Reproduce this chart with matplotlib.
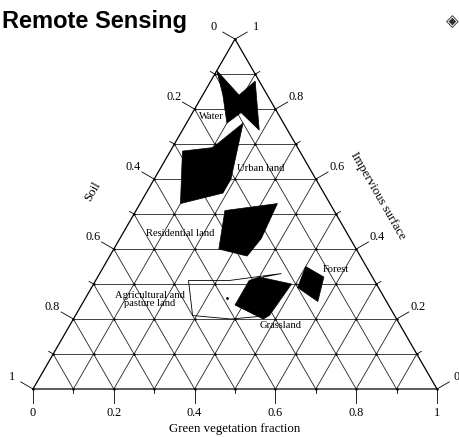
import numpy as np
import matplotlib.pyplot as plt

plt.rcParams["font.family"] = ["Liberation Serif", "DejaVu Serif"]

# land-cover regions, vertices as (green vegetation, impervious surface) fractions
water_veg = [0.00, 0.09, 0.11, 0.19, 0.12, 0.10, 0.05]
water_imp = [0.91, 0.84, 0.88, 0.74, 0.79, 0.76, 0.84]

urban_veg = [0.14, 0.19, 0.19, 0.10, 0.03, 0.10]
urban_imp = [0.76, 0.60, 0.56, 0.53, 0.68, 0.69]

resid_veg = [0.22, 0.34, 0.35, 0.34, 0.26]
resid_imp = [0.51, 0.53, 0.43, 0.38, 0.40]

grass_veg = [0.38, 0.40, 0.49, 0.48, 0.47, 0.38]
grass_imp = [0.31, 0.32, 0.30, 0.21, 0.20, 0.24]

forest_veg = [0.50, 0.56, 0.58, 0.51]
forest_imp = [0.35, 0.32, 0.25, 0.29]

agri_veg = [0.23, 0.33, 0.45, 0.41, 0.48, 0.39, 0.29]
agri_imp = [0.31, 0.31, 0.33, 0.32, 0.21, 0.20, 0.21]

agri_dot = (0.35, 0.26)

ticks = np.round(np.arange(0, 1.01, 0.1), 1)
labeled = [0.0, 0.2, 0.4, 0.6, 0.8, 1.0]
tick_labels = ["0", "0.2", "0.4", "0.6", "0.8", "1"]

H = np.sqrt(3) / 2


def to_xy(veg, imp):
    veg = np.asarray(veg, dtype=float)
    imp = np.asarray(imp, dtype=float)
    return veg + imp / 2, imp * H


fig = plt.figure(figsize=(4.6, 4.37), dpi=100)
ax = fig.add_axes([0, 0, 1, 1])
ax.set_xlim(-33 / 404, 427 / 404)
ax.set_ylim(-48 / 404, 389 / 404)
ax.axis("off")
x_max = 424 / 404  # keep edge labels inside the canvas

grid_kw = dict(color="#222222", lw=0.6, zorder=1)

# grid: constant impervious, constant vegetation, constant soil
for t in ticks[1:-1]:
    x, y = to_xy([0, 1 - t], [t, t])
    ax.plot(x, y, **grid_kw)
    x, y = to_xy([t, t], [0, 1 - t])
    ax.plot(x, y, **grid_kw)
    x, y = to_xy([0, 1 - t], [1 - t, 0])
    ax.plot(x, y, **grid_kw)

# small dots where grid lines cross
pv, pi = [], []
for a in ticks:
    for b in ticks:
        if a + b <= 1.0001:
            pv.append(a)
            pi.append(b)
px, py = to_xy(pv, pi)
ax.plot(px, py, "k.", ms=1.5, zorder=2)

x, y = to_xy([0, 1, 0, 0], [0, 0, 1, 0])
ax.plot(x, y, color="black", lw=0.9, zorder=3)

# ticks and labels on the three edges
left_dir = np.array([-0.866, 0.5])
right_dir = np.array([0.866, 0.5])
for t in ticks:
    major = t in labeled
    ln = 0.035 if major else 0.013
    # left edge (soil)
    x0, y0 = to_xy(0, t)
    ax.plot([x0, x0 + left_dir[0] * ln], [y0, y0 + left_dir[1] * ln], color="black", lw=0.6)
    # right edge (impervious)
    x0, y0 = to_xy(1 - t, t)
    ax.plot([x0, x0 + right_dir[0] * ln], [y0, y0 + right_dir[1] * ln], color="black", lw=0.6)
    # bottom edge (vegetation)
    x0, y0 = to_xy(t, 0)
    ax.plot([x0, x0], [y0, y0 - (0.035 if major else 0.01)], color="black", lw=0.6)

for t, lab in zip(labeled, tick_labels):
    x0, y0 = to_xy(0, t)
    soil_lab = tick_labels[len(tick_labels) - 1 - labeled.index(t)]
    ax.text(x0 + left_dir[0] * 0.06, y0 + left_dir[1] * 0.06, soil_lab,
            ha="center", va="center", fontsize=8.8)
    x0, y0 = to_xy(1 - t, t)
    ax.text(min(x0 + right_dir[0] * 0.06, x_max), y0 + right_dir[1] * 0.06, lab,
            ha="center", va="center", fontsize=8.8)
    x0, y0 = to_xy(t, 0)
    ax.text(x0, y0 - 0.059, lab, ha="center", va="center", fontsize=8.8)

# land-cover regions
for v, i in [(water_veg, water_imp), (urban_veg, urban_imp), (resid_veg, resid_imp),
             (grass_veg, grass_imp), (forest_veg, forest_imp)]:
    x, y = to_xy(v, i)
    ax.fill(x, y, facecolor="black", edgecolor="black", lw=0.5, zorder=5)

x, y = to_xy(agri_veg, agri_imp)
ax.fill(x, y, facecolor="none", edgecolor="black", lw=0.6, zorder=4)
x, y = to_xy(*agri_dot)
ax.plot(x, y, "k.", ms=2, zorder=4)

lab_kw = dict(ha="center", va="center", fontsize=7.6, zorder=6)
ax.text(0.4406, 0.6757, "Water", **lab_kw)
ax.text(0.5644, 0.5470, "Urban land", **lab_kw)
ax.text(0.3639, 0.3861, "Residential land", **lab_kw)
ax.text(0.7500, 0.2970, "Forest", **lab_kw)
ax.text(0.2896, 0.2215, "Agricultural and\npasture land", linespacing=0.95, **lab_kw)
ax.text(0.6139, 0.1584, "Grassland", **lab_kw)

ax.text(0.1485, 0.4876, "Soil", rotation=60, ha="center", va="center", fontsize=9.3)
ax.text(0.854, 0.4777, "Impervious surface", rotation=-60, ha="center", va="center", fontsize=9.3)
ax.text(0.5, -0.099, "Green vegetation fraction", ha="center", va="center", fontsize=9.3)

fig.text(0.004, 1 - 28 / 437, "Remote Sensing", fontsize=17, fontweight="bold",
         family="Liberation Sans", va="baseline")
fig.text(459 / 460, 1 - 22 / 437, "\u25c8", ha="right", va="center", fontsize=12,
         color="#333333", family="DejaVu Sans")

fig.savefig("out.png", dpi=100)
